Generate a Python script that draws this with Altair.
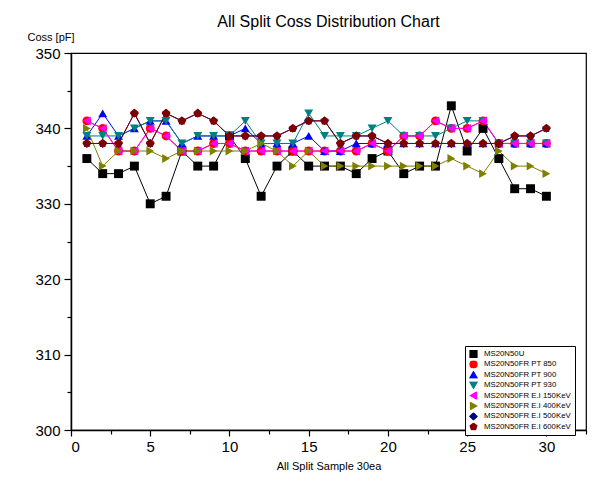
import altair as alt
import pandas as pd

samples = list(range(1, 31))

series_names = [
    "MS20N50U",
    "MS20N50FR PT 850",
    "MS20N50FR PT 900",
    "MS20N50FR PT 930",
    "MS20N50FR E.I 150KeV",
    "MS20N50FR E.I 400KeV",
    "MS20N50FR E.I 500KeV",
    "MS20N50FR E.I 600KeV",
]

ms20n50u = [336, 334, 334, 335, 330, 331, 337, 335, 335, 339, 336, 331, 335, 337, 335,
            335, 335, 334, 336, 337, 334, 335, 335, 343, 337, 340, 336, 332, 332, 331]
pt850 = [341, 340, 337, 337, 340, 339, 337, 337, 338, 338, 337, 337, 337, 337, 337,
         337, 337, 337, 338, 337, 339, 339, 341, 340, 340, 341, 338, 338, 338, 338]
pt900 = [339, 342, 339, 340, 341, 341, 338, 339, 339, 339, 340, 338, 338, 338, 339,
         337, 337, 338, 338, 338, 338, 338, 338, 338, 338, 338, 338, 338, 338, 338]
pt930 = [339, 339, 339, 340, 341, 341, 338, 339, 339, 339, 341, 338, 338, 338, 342,
         339, 339, 339, 340, 341, 339, 339, 339, 340, 341, 341, 338, 338, 338, 338]
ei150 = [341, 340, 337, 337, 340, 339, 337, 337, 338, 338, 337, 337, 337, 337, 337,
         337, 337, 337, 338, 337, 339, 339, 341, 340, 340, 341, 338, 338, 338, 338]
ei400 = [340, 335, 337, 337, 337, 336, 337, 337, 337, 337, 337, 338, 337, 335, 337,
         335, 335, 335, 335, 335, 335, 335, 335, 336, 335, 334, 337, 335, 335, 334]
ei500 = [338, 338, 338, 342, 338, 342, 341, 342, 341, 339, 339, 339, 339, 340, 341,
         341, 338, 339, 339, 338, 338, 338, 338, 338, 338, 338, 338, 339, 339, 340]
ei600 = [338, 338, 338, 342, 338, 342, 341, 342, 341, 339, 339, 339, 339, 340, 341,
         341, 338, 339, 339, 338, 338, 338, 338, 338, 338, 338, 338, 339, 339, 340]

series_values = [ms20n50u, pt850, pt900, pt930, ei150, ei400, ei500, ei600]

colors = ["#000000", "#FF0000", "#0000FF", "#008080", "#FF00FF", "#808000", "#000080", "#800000"]
pentagon = "M0,-1L0.951,-0.309L0.588,0.809L-0.588,0.809L-0.951,-0.309Z"
shapes = ["square", "circle", "triangle-up", "triangle-down", "triangle-left",
          "triangle-right", "diamond", pentagon]

rows = []
for k, (name, vals) in enumerate(zip(series_names, series_values)):
    for s, v in zip(samples, vals):
        rows.append({"sample": s, "coss": v, "series": name, "k": k})
df = pd.DataFrame(rows)

x_ticks = [i * 2.5 for i in range(14)]
y_ticks = list(range(300, 351, 5))

x_enc = alt.X(
    "sample:Q",
    scale=alt.Scale(domain=[0, 32.5], nice=False, zero=False),
    axis=alt.Axis(
        values=x_ticks,
        labelExpr="datum.value % 5 === 0 ? datum.label : ''",
        tickSize={"condition": {"test": "datum.value % 5 === 0", "value": 6}, "value": 4},
        title="All Split Sample 30ea",
        titleFontSize=11,
        titleFontWeight="normal",
        titlePadding=6,
        labelFontSize=15,
        labelPadding=3,
        grid=False,
    ),
)
y_enc = alt.Y(
    "coss:Q",
    scale=alt.Scale(domain=[300, 350], nice=False, zero=False),
    axis=alt.Axis(
        values=y_ticks,
        labelExpr="datum.value % 10 === 0 ? datum.label : ''",
        tickSize={"condition": {"test": "datum.value % 10 === 0", "value": 7}, "value": 4},
        title="Coss [pF]",
        titleAngle=0,
        titleAlign="left",
        titleBaseline="bottom",
        titleX=-44,
        titleY=-11,
        titleFontSize=11,
        titleFontWeight="normal",
        labelFontSize=15,
        labelPadding=4,
        grid=False,
    ),
)

legend_props = dict(
    title=None,
    orient="none",
    legendX=394,
    legendY=293,
    labelFontSize=7.8,
    symbolSize=45,
    rowPadding=2.4,
    clipHeight=8,
    padding=4,
    fillColor="white",
    strokeColor="black",
    labelLimit=200,
    labelOffset=6,
)

color_enc = alt.Color(
    "series:N",
    scale=alt.Scale(domain=series_names, range=colors),
    legend=alt.Legend(**legend_props),
)
shape_enc = alt.Shape(
    "series:N",
    scale=alt.Scale(domain=series_names, range=shapes),
    legend=alt.Legend(**legend_props),
)

base = alt.Chart(df)
lines = base.mark_line(strokeWidth=1).encode(
    x=x_enc, y=y_enc, color=color_enc, detail="series:N", order="sample:Q"
)
points = base.mark_point(filled=True, size=80, opacity=1).encode(
    x=x_enc, y=y_enc, color=color_enc, shape=shape_enc, order="k:Q"
)

chart = (
    alt.layer(lines, points)
    .properties(
        width=515,
        height=377,
        title=alt.TitleParams(
            "All Split Coss Distribution Chart",
            fontSize=16,
            fontWeight="normal",
            anchor="middle",
            offset=1,
            color="black",
        ),
        autosize=alt.AutoSizeParams(type="none"),
        padding={"left": 63, "top": 45, "right": 11, "bottom": 50},
    )
    .configure(font="Liberation Sans")
    .configure_view(stroke="black", strokeWidth=1.2)
    .configure_axis(
        domainColor="black",
        domainWidth=1.5,
        tickColor="black",
        tickWidth=1.2,
        labelColor="black",
        titleColor="black",
    )
    .configure_legend(labelColor="black")
)

chart.save("out.html", embed_options={"renderer": "svg", "actions": False})
